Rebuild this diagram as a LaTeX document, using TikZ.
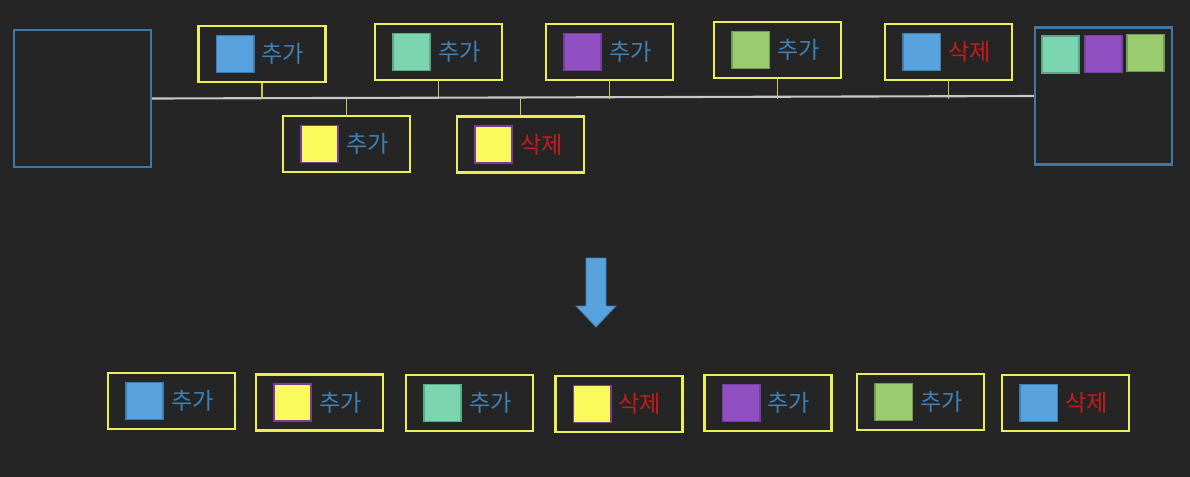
\documentclass[tikz,border=0pt]{standalone}
\usepackage{fontspec}
\newfontfamily\kr{Noto Sans CJK KR}
\usetikzlibrary{positioning}
\definecolor{bg}{HTML}{252525}
\definecolor{frame}{HTML}{3D78A6}
\definecolor{evline}{HTML}{EDED55}
\definecolor{hookc}{HTML}{C9C95A}
\definecolor{rail}{HTML}{C8C8C8}
\definecolor{addtxt}{HTML}{3F80B4}
\definecolor{deltxt}{HTML}{C41C1C}
\definecolor{sqblue}{HTML}{58A3DE}
\definecolor{sqblueD}{HTML}{3E7DB0}
\definecolor{sqteal}{HTML}{7AD5B0}
\definecolor{sqtealD}{HTML}{5BA98A}
\definecolor{sqpurp}{HTML}{9150C2}
\definecolor{sqpurpD}{HTML}{7340A0}
\definecolor{sqgreen}{HTML}{9ACB6E}
\definecolor{sqgreenD}{HTML}{6E9E4E}
\definecolor{sqyel}{HTML}{FAFA5C}
\definecolor{sqyelD}{HTML}{7A3A9E}
\tikzset{evbox/.style={draw=evline,line width=1.8pt,minimum width=31.75mm,minimum height=14mm,inner sep=0pt},
  sq/.style={line width=1.2pt,minimum size=9.3mm,inner sep=0pt},
  sqB/.style={sq,fill=sqblue,draw=sqblueD},sqT/.style={sq,fill=sqteal,draw=sqtealD},
  sqP/.style={sq,fill=sqpurp,draw=sqpurpD},sqG/.style={sq,fill=sqgreen,draw=sqgreenD},
  sqY/.style={sq,fill=sqyel,draw=sqyelD},
  add/.style={font=\kr\fontsize{16.5}{19}\selectfont,text=addtxt,inner sep=1pt},
  del/.style={add,text=deltxt},
  hook/.style={draw=hookc,line width=1.3pt},
  store/.style={draw=frame,line width=1.5pt,minimum width=34.25mm,minimum height=34.25mm,inner sep=0pt}}

\begin{document}
\begin{tikzpicture}[x=0.25mm,y=-0.25mm]
\useasboundingbox (0,0) rectangle (1190,476);
\fill[bg] (-6,-6) rectangle (1196,482);
\node[store] (src) at (82.5,98.5) {};
\node[store] (dst) at (1103.5,96) {};
\node[sqT] (k1) at (1060.5,54.5) {};
\node[sqP] (k2) at (1103.5,54) {};
\node[sqG] (k3) at (1145.5,53) {};
\draw[rail,line width=1.5pt] (src.east)--(dst.west);
% events above and below the line
\foreach \x/\y/\s/\l/\t [count=\i] in {262/54/sqB/add/추가,438.5/52/sqT/add/추가,609.5/52/sqP/add/추가,777.5/50/sqG/add/추가,948.5/52/sqB/del/삭제}{
  \node[evbox] (t\i) at (\x,\y) {};
  \node[\s] (t\i s) at ([xshift=9.5mm]t\i.west) {};
  \node[\l,right=1.3mm of t\i s] {\t};
  \draw[hook] (t\i.south)--(t\i.south |- src.east);
}
\foreach \x/\y/\s/\l/\t [count=\i] in {346.5/144/sqY/add/추가,520.5/144.5/sqY/del/삭제}{
  \node[evbox] (u\i) at (\x,\y) {};
  \node[\s] (u\i s) at ([xshift=9.5mm]u\i.west) {};
  \node[\l,right=1.3mm of u\i s] {\t};
  \draw[hook] (u\i.north)--(u\i.north |- src.east);
}
% merged order
\fill[sqblue,draw=sqblueD,line width=0.6pt] (586,258)--(606,258)--(606,306)--(616,306)--(596,327)--(576,306)--(586,306)--cycle;
\foreach \x/\y/\s/\l/\t [count=\i] in {171.5/401/sqB/add/추가,319.5/402.5/sqY/add/추가,469.5/403/sqT/add/추가,619/404/sqY/del/삭제,768/403/sqP/add/추가,920.5/402/sqG/add/추가,1065.5/403/sqB/del/삭제}{
  \node[evbox] (b\i) at (\x,\y) {};
  \node[\s] (b\i s) at ([xshift=9.5mm]b\i.west) {};
  \node[\l,right=1.3mm of b\i s] {\t};
}
\end{tikzpicture}
\end{document}
